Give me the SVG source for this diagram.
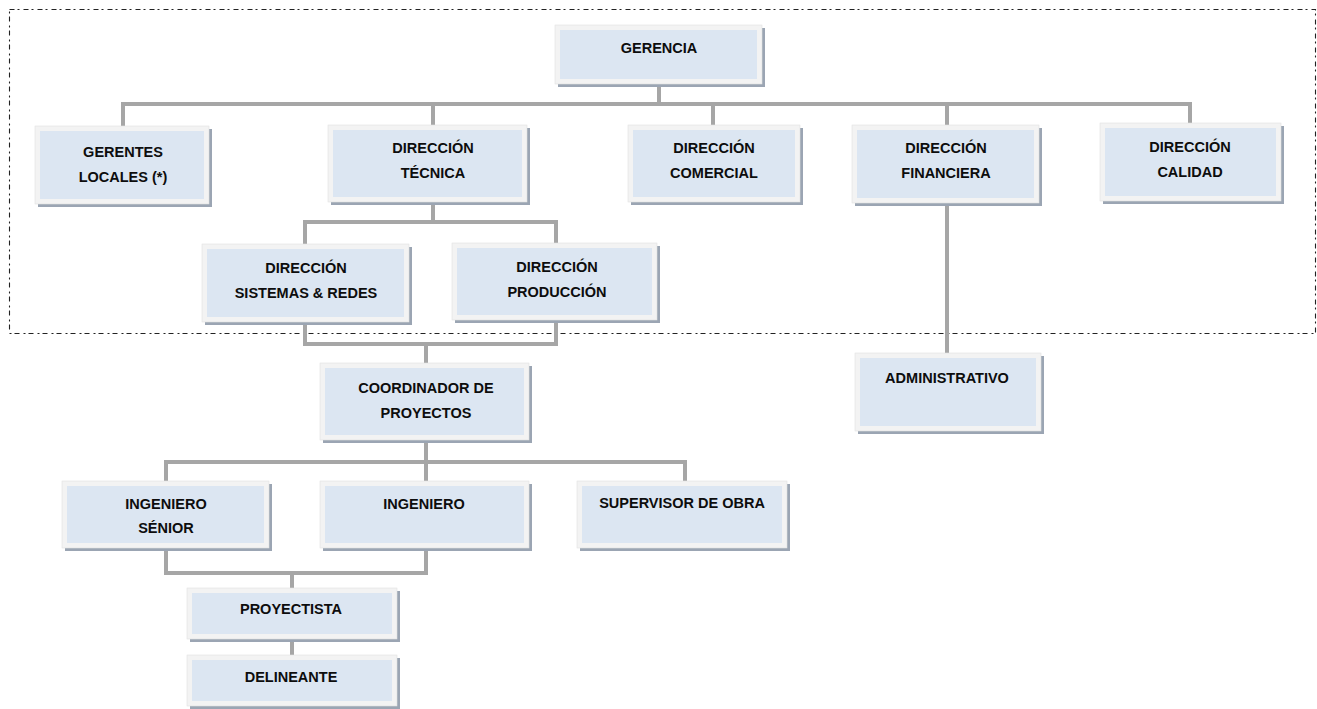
<svg xmlns="http://www.w3.org/2000/svg" width="1317" height="709" viewBox="0 0 1317 709">
<style>
.sh{fill:#9ba5b3}
.fr{fill:#f3f3f3;stroke:#e2e2e2;stroke-width:0.6}
.in{fill:#dce6f2}
.t{font-family:"Liberation Sans",Arial,sans-serif;font-weight:bold;font-size:14.5px;fill:#0d0d0d;text-anchor:middle}
.c{fill:none;stroke:#a6a6a6;stroke-width:4}
.bd{fill:none;stroke:#222222;stroke-width:1.1;stroke-dasharray:5 3 2 4}
</style>
<rect width="1317" height="709" fill="#ffffff"/>
<rect class="bd" x="9.5" y="9.5" width="1306" height="324"/>
<g id="connectors">
<path class="c" d="M659 87V104M123 126V104H1190V123M433 104V125M713 104V125M947 104V125"/>
<path class="c" d="M433 205V222M305 244V222H556V243"/>
<path class="c" d="M947 206V353"/>
<path class="c" d="M305 325V344H556V323M426 344V363"/>
<path class="c" d="M426 443V462M166 481V462H685V481M426 462V481"/>
<path class="c" d="M166 551V573H426V551M292 573V588"/>
<path class="c" d="M292 642V655"/>
</g>
<g id="gerencia"><rect class="sh" x="558" y="28" width="207" height="59"/><rect class="fr" x="555" y="25" width="207" height="59"/><rect class="in" x="560" y="30" width="197" height="49"/><text class="t" x="659" y="53">GERENCIA</text></g>
<g id="gerentes"><rect class="sh" x="38" y="129" width="174" height="78"/><rect class="fr" x="35" y="126" width="174" height="78"/><rect class="in" x="40" y="131" width="164" height="68"/><text class="t" x="123" y="157">GERENTES</text><text class="t" x="123" y="182">LOCALES (*)</text></g>
<g id="tecnica"><rect class="sh" x="331" y="128" width="199" height="77"/><rect class="fr" x="328" y="125" width="199" height="77"/><rect class="in" x="333" y="130" width="189" height="67"/><text class="t" x="433" y="153">DIRECCIÓN</text><text class="t" x="433" y="178">TÉCNICA</text></g>
<g id="comercial"><rect class="sh" x="631" y="128" width="172" height="77"/><rect class="fr" x="628" y="125" width="172" height="77"/><rect class="in" x="633" y="130" width="162" height="67"/><text class="t" x="714" y="153">DIRECCIÓN</text><text class="t" x="714" y="178">COMERCIAL</text></g>
<g id="financiera"><rect class="sh" x="855" y="128" width="187" height="78"/><rect class="fr" x="852" y="125" width="187" height="78"/><rect class="in" x="857" y="130" width="177" height="68"/><text class="t" x="946" y="153">DIRECCIÓN</text><text class="t" x="946" y="178">FINANCIERA</text></g>
<g id="calidad"><rect class="sh" x="1103" y="126" width="181" height="78"/><rect class="fr" x="1100" y="123" width="181" height="78"/><rect class="in" x="1105" y="128" width="171" height="68"/><text class="t" x="1190" y="152">DIRECCIÓN</text><text class="t" x="1190" y="177">CALIDAD</text></g>
<g id="sistemas"><rect class="sh" x="205" y="247" width="207" height="78"/><rect class="fr" x="202" y="244" width="207" height="78"/><rect class="in" x="207" y="249" width="197" height="68"/><text class="t" x="306" y="273">DIRECCIÓN</text><text class="t" x="306" y="298">SISTEMAS &amp; REDES</text></g>
<g id="produccion"><rect class="sh" x="455" y="246" width="205" height="77"/><rect class="fr" x="452" y="243" width="205" height="77"/><rect class="in" x="457" y="248" width="195" height="67"/><text class="t" x="557" y="272">DIRECCIÓN</text><text class="t" x="557" y="297">PRODUCCIÓN</text></g>
<g id="administrativo"><rect class="sh" x="858" y="356" width="186" height="78"/><rect class="fr" x="855" y="353" width="186" height="78"/><rect class="in" x="860" y="358" width="176" height="68"/><text class="t" x="947" y="383">ADMINISTRATIVO</text></g>
<g id="coordinador"><rect class="sh" x="323" y="366" width="209" height="77"/><rect class="fr" x="320" y="363" width="209" height="77"/><rect class="in" x="325" y="368" width="199" height="67"/><text class="t" x="426" y="393">COORDINADOR DE</text><text class="t" x="426" y="418">PROYECTOS</text></g>
<g id="ingeniero-senior"><rect class="sh" x="65" y="484" width="207" height="67"/><rect class="fr" x="62" y="481" width="207" height="67"/><rect class="in" x="67" y="486" width="197" height="57"/><text class="t" x="166" y="509">INGENIERO</text><text class="t" x="166" y="533">SÉNIOR</text></g>
<g id="ingeniero"><rect class="sh" x="323" y="484" width="209" height="67"/><rect class="fr" x="320" y="481" width="209" height="67"/><rect class="in" x="325" y="486" width="199" height="57"/><text class="t" x="424" y="509">INGENIERO</text></g>
<g id="supervisor"><rect class="sh" x="580" y="484" width="210" height="67"/><rect class="fr" x="577" y="481" width="210" height="67"/><rect class="in" x="582" y="486" width="200" height="57"/><text class="t" x="682" y="508">SUPERVISOR DE OBRA</text></g>
<g id="proyectista"><rect class="sh" x="190" y="591" width="210" height="51"/><rect class="fr" x="187" y="588" width="210" height="51"/><rect class="in" x="192" y="593" width="200" height="41"/><text class="t" x="291" y="614">PROYECTISTA</text></g>
<g id="delineante"><rect class="sh" x="190" y="658" width="210" height="51"/><rect class="fr" x="187" y="655" width="210" height="51"/><rect class="in" x="192" y="660" width="200" height="41"/><text class="t" x="291" y="682">DELINEANTE</text></g>
</svg>
